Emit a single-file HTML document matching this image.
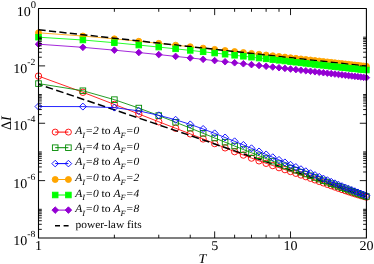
<!DOCTYPE html><html><head><meta charset="utf-8"><style>html,body{margin:0;padding:0;background:#fff}svg{display:block}</style></head><body><div style="will-change:transform;width:374px;height:264px"><svg text-rendering="geometricPrecision" width="374" height="264" viewBox="0 0 374 264">
<rect width="374" height="264" fill="#fff"/>
<g>
<polyline points="38.50,76.10 82.88,92.28 114.37,104.43 138.79,113.99 158.75,121.77 175.62,128.27 190.24,133.87 203.13,138.94 214.66,143.61 225.09,147.84 234.62,151.65 243.38,155.06 251.49,158.10 259.04,160.83 266.11,163.30 272.74,165.56 279.00,167.66 284.92,169.63 290.53,171.50 295.87,173.28 300.96,175.00 305.83,176.66 310.49,178.27 314.96,179.85 319.25,181.38 323.38,182.87 327.36,184.30 331.20,185.68 334.91,187.00 338.50,188.27 341.98,189.48 345.34,190.63 348.61,191.72 351.78,192.76 354.87,193.74 357.87,194.67 360.79,195.55 363.63,196.37 366.40,197.14" fill="none" stroke="#ff0000" stroke-width="0.85"/>
<circle cx="38.50" cy="76.10" r="3.2" fill="none" stroke="#ff0000" stroke-width="0.9"/>
<circle cx="82.88" cy="92.28" r="3.2" fill="none" stroke="#ff0000" stroke-width="0.9"/>
<circle cx="114.37" cy="104.43" r="3.2" fill="none" stroke="#ff0000" stroke-width="0.9"/>
<circle cx="138.79" cy="113.99" r="3.2" fill="none" stroke="#ff0000" stroke-width="0.9"/>
<circle cx="158.75" cy="121.77" r="3.2" fill="none" stroke="#ff0000" stroke-width="0.9"/>
<circle cx="175.62" cy="128.27" r="3.2" fill="none" stroke="#ff0000" stroke-width="0.9"/>
<circle cx="190.24" cy="133.87" r="3.2" fill="none" stroke="#ff0000" stroke-width="0.9"/>
<circle cx="203.13" cy="138.94" r="3.2" fill="none" stroke="#ff0000" stroke-width="0.9"/>
<circle cx="214.66" cy="143.61" r="3.2" fill="none" stroke="#ff0000" stroke-width="0.9"/>
<circle cx="225.09" cy="147.84" r="3.2" fill="none" stroke="#ff0000" stroke-width="0.9"/>
<circle cx="234.62" cy="151.65" r="3.2" fill="none" stroke="#ff0000" stroke-width="0.9"/>
<circle cx="243.38" cy="155.06" r="3.2" fill="none" stroke="#ff0000" stroke-width="0.9"/>
<circle cx="251.49" cy="158.10" r="3.2" fill="none" stroke="#ff0000" stroke-width="0.9"/>
<circle cx="259.04" cy="160.83" r="3.2" fill="none" stroke="#ff0000" stroke-width="0.9"/>
<circle cx="266.11" cy="163.30" r="3.2" fill="none" stroke="#ff0000" stroke-width="0.9"/>
<circle cx="272.74" cy="165.56" r="3.2" fill="none" stroke="#ff0000" stroke-width="0.9"/>
<circle cx="279.00" cy="167.66" r="3.2" fill="none" stroke="#ff0000" stroke-width="0.9"/>
<circle cx="284.92" cy="169.63" r="3.2" fill="none" stroke="#ff0000" stroke-width="0.9"/>
<circle cx="290.53" cy="171.50" r="3.2" fill="none" stroke="#ff0000" stroke-width="0.9"/>
<circle cx="295.87" cy="173.28" r="3.2" fill="none" stroke="#ff0000" stroke-width="0.9"/>
<circle cx="300.96" cy="175.00" r="3.2" fill="none" stroke="#ff0000" stroke-width="0.9"/>
<circle cx="305.83" cy="176.66" r="3.2" fill="none" stroke="#ff0000" stroke-width="0.9"/>
<circle cx="310.49" cy="178.27" r="3.2" fill="none" stroke="#ff0000" stroke-width="0.9"/>
<circle cx="314.96" cy="179.85" r="3.2" fill="none" stroke="#ff0000" stroke-width="0.9"/>
<circle cx="319.25" cy="181.38" r="3.2" fill="none" stroke="#ff0000" stroke-width="0.9"/>
<circle cx="323.38" cy="182.87" r="3.2" fill="none" stroke="#ff0000" stroke-width="0.9"/>
<circle cx="327.36" cy="184.30" r="3.2" fill="none" stroke="#ff0000" stroke-width="0.9"/>
<circle cx="331.20" cy="185.68" r="3.2" fill="none" stroke="#ff0000" stroke-width="0.9"/>
<circle cx="334.91" cy="187.00" r="3.2" fill="none" stroke="#ff0000" stroke-width="0.9"/>
<circle cx="338.50" cy="188.27" r="3.2" fill="none" stroke="#ff0000" stroke-width="0.9"/>
<circle cx="341.98" cy="189.48" r="3.2" fill="none" stroke="#ff0000" stroke-width="0.9"/>
<circle cx="345.34" cy="190.63" r="3.2" fill="none" stroke="#ff0000" stroke-width="0.9"/>
<circle cx="348.61" cy="191.72" r="3.2" fill="none" stroke="#ff0000" stroke-width="0.9"/>
<circle cx="351.78" cy="192.76" r="3.2" fill="none" stroke="#ff0000" stroke-width="0.9"/>
<circle cx="354.87" cy="193.74" r="3.2" fill="none" stroke="#ff0000" stroke-width="0.9"/>
<circle cx="357.87" cy="194.67" r="3.2" fill="none" stroke="#ff0000" stroke-width="0.9"/>
<circle cx="360.79" cy="195.55" r="3.2" fill="none" stroke="#ff0000" stroke-width="0.9"/>
<circle cx="363.63" cy="196.37" r="3.2" fill="none" stroke="#ff0000" stroke-width="0.9"/>
<circle cx="366.40" cy="197.14" r="3.2" fill="none" stroke="#ff0000" stroke-width="0.9"/>
<polyline points="38.50,84.2 190.24,135.5 290.53,170.2 366.40,196.8" fill="none" stroke="#000" stroke-width="1.5" stroke-dasharray="7.6,3.4" stroke-dashoffset="3.3"/>
<polyline points="38.50,83.60 82.88,90.75 114.37,99.66 138.79,108.07 158.75,115.59 175.62,122.23 190.24,128.09 203.13,133.30 214.66,137.97 225.09,142.18 234.62,146.02 243.38,149.53 251.49,152.77 259.04,155.77 266.11,158.56 272.74,161.17 279.00,163.63 284.92,165.93 290.53,168.12 295.87,170.18 300.96,172.14 305.83,174.01 310.49,175.79 314.96,177.49 319.25,179.11 323.38,180.67 327.36,182.17 331.20,183.61 334.91,184.99 338.50,186.32 341.98,187.61 345.34,188.85 348.61,190.05 351.78,191.21 354.87,192.34 357.87,193.43 360.79,194.48 363.63,195.51 366.40,196.50" fill="none" stroke="#008b00" stroke-width="0.85"/>
<rect x="35.70" y="80.80" width="5.60" height="5.60" fill="none" stroke="#008b00" stroke-width="0.9"/>
<rect x="80.08" y="87.95" width="5.60" height="5.60" fill="none" stroke="#008b00" stroke-width="0.9"/>
<rect x="111.57" y="96.86" width="5.60" height="5.60" fill="none" stroke="#008b00" stroke-width="0.9"/>
<rect x="135.99" y="105.27" width="5.60" height="5.60" fill="none" stroke="#008b00" stroke-width="0.9"/>
<rect x="155.95" y="112.79" width="5.60" height="5.60" fill="none" stroke="#008b00" stroke-width="0.9"/>
<rect x="172.82" y="119.43" width="5.60" height="5.60" fill="none" stroke="#008b00" stroke-width="0.9"/>
<rect x="187.44" y="125.29" width="5.60" height="5.60" fill="none" stroke="#008b00" stroke-width="0.9"/>
<rect x="200.33" y="130.50" width="5.60" height="5.60" fill="none" stroke="#008b00" stroke-width="0.9"/>
<rect x="211.86" y="135.17" width="5.60" height="5.60" fill="none" stroke="#008b00" stroke-width="0.9"/>
<rect x="222.29" y="139.38" width="5.60" height="5.60" fill="none" stroke="#008b00" stroke-width="0.9"/>
<rect x="231.82" y="143.22" width="5.60" height="5.60" fill="none" stroke="#008b00" stroke-width="0.9"/>
<rect x="240.58" y="146.73" width="5.60" height="5.60" fill="none" stroke="#008b00" stroke-width="0.9"/>
<rect x="248.69" y="149.97" width="5.60" height="5.60" fill="none" stroke="#008b00" stroke-width="0.9"/>
<rect x="256.24" y="152.97" width="5.60" height="5.60" fill="none" stroke="#008b00" stroke-width="0.9"/>
<rect x="263.31" y="155.76" width="5.60" height="5.60" fill="none" stroke="#008b00" stroke-width="0.9"/>
<rect x="269.94" y="158.37" width="5.60" height="5.60" fill="none" stroke="#008b00" stroke-width="0.9"/>
<rect x="276.20" y="160.83" width="5.60" height="5.60" fill="none" stroke="#008b00" stroke-width="0.9"/>
<rect x="282.12" y="163.13" width="5.60" height="5.60" fill="none" stroke="#008b00" stroke-width="0.9"/>
<rect x="287.73" y="165.32" width="5.60" height="5.60" fill="none" stroke="#008b00" stroke-width="0.9"/>
<rect x="293.07" y="167.38" width="5.60" height="5.60" fill="none" stroke="#008b00" stroke-width="0.9"/>
<rect x="298.16" y="169.34" width="5.60" height="5.60" fill="none" stroke="#008b00" stroke-width="0.9"/>
<rect x="303.03" y="171.21" width="5.60" height="5.60" fill="none" stroke="#008b00" stroke-width="0.9"/>
<rect x="307.69" y="172.99" width="5.60" height="5.60" fill="none" stroke="#008b00" stroke-width="0.9"/>
<rect x="312.16" y="174.69" width="5.60" height="5.60" fill="none" stroke="#008b00" stroke-width="0.9"/>
<rect x="316.45" y="176.31" width="5.60" height="5.60" fill="none" stroke="#008b00" stroke-width="0.9"/>
<rect x="320.58" y="177.87" width="5.60" height="5.60" fill="none" stroke="#008b00" stroke-width="0.9"/>
<rect x="324.56" y="179.37" width="5.60" height="5.60" fill="none" stroke="#008b00" stroke-width="0.9"/>
<rect x="328.40" y="180.81" width="5.60" height="5.60" fill="none" stroke="#008b00" stroke-width="0.9"/>
<rect x="332.11" y="182.19" width="5.60" height="5.60" fill="none" stroke="#008b00" stroke-width="0.9"/>
<rect x="335.70" y="183.52" width="5.60" height="5.60" fill="none" stroke="#008b00" stroke-width="0.9"/>
<rect x="339.18" y="184.81" width="5.60" height="5.60" fill="none" stroke="#008b00" stroke-width="0.9"/>
<rect x="342.54" y="186.05" width="5.60" height="5.60" fill="none" stroke="#008b00" stroke-width="0.9"/>
<rect x="345.81" y="187.25" width="5.60" height="5.60" fill="none" stroke="#008b00" stroke-width="0.9"/>
<rect x="348.98" y="188.41" width="5.60" height="5.60" fill="none" stroke="#008b00" stroke-width="0.9"/>
<rect x="352.07" y="189.54" width="5.60" height="5.60" fill="none" stroke="#008b00" stroke-width="0.9"/>
<rect x="355.07" y="190.63" width="5.60" height="5.60" fill="none" stroke="#008b00" stroke-width="0.9"/>
<rect x="357.99" y="191.68" width="5.60" height="5.60" fill="none" stroke="#008b00" stroke-width="0.9"/>
<rect x="360.83" y="192.71" width="5.60" height="5.60" fill="none" stroke="#008b00" stroke-width="0.9"/>
<rect x="363.60" y="193.70" width="5.60" height="5.60" fill="none" stroke="#008b00" stroke-width="0.9"/>
<polyline points="38.50,106.50 82.88,106.60 114.37,107.60 138.79,110.90 158.75,115.32 175.62,119.78 190.24,124.41 203.13,128.99 214.66,133.37 225.09,137.49 234.62,141.34 243.38,144.94 251.49,148.31 259.04,151.47 266.11,154.45 272.74,157.25 279.00,159.91 284.92,162.42 290.53,164.80 295.87,167.06 300.96,169.22 305.83,171.27 310.49,173.23 314.96,175.10 319.25,176.89 323.38,178.60 327.36,180.24 331.20,181.82 334.91,183.33 338.50,184.78 341.98,186.18 345.34,187.53 348.61,188.82 351.78,190.07 354.87,191.28 357.87,192.44 360.79,193.57 363.63,194.65 366.40,195.70" fill="none" stroke="#0000ff" stroke-width="0.85"/>
<path d="M35.00 106.50 L38.50 103.00 L42.00 106.50 L38.50 110.00Z" fill="none" stroke="#0000ff" stroke-width="0.9"/>
<path d="M79.38 106.60 L82.88 103.10 L86.38 106.60 L82.88 110.10Z" fill="none" stroke="#0000ff" stroke-width="0.9"/>
<path d="M110.87 107.60 L114.37 104.10 L117.87 107.60 L114.37 111.10Z" fill="none" stroke="#0000ff" stroke-width="0.9"/>
<path d="M135.29 110.90 L138.79 107.40 L142.29 110.90 L138.79 114.40Z" fill="none" stroke="#0000ff" stroke-width="0.9"/>
<path d="M155.25 115.32 L158.75 111.82 L162.25 115.32 L158.75 118.82Z" fill="none" stroke="#0000ff" stroke-width="0.9"/>
<path d="M172.12 119.78 L175.62 116.28 L179.12 119.78 L175.62 123.28Z" fill="none" stroke="#0000ff" stroke-width="0.9"/>
<path d="M186.74 124.41 L190.24 120.91 L193.74 124.41 L190.24 127.91Z" fill="none" stroke="#0000ff" stroke-width="0.9"/>
<path d="M199.63 128.99 L203.13 125.49 L206.63 128.99 L203.13 132.49Z" fill="none" stroke="#0000ff" stroke-width="0.9"/>
<path d="M211.16 133.37 L214.66 129.87 L218.16 133.37 L214.66 136.87Z" fill="none" stroke="#0000ff" stroke-width="0.9"/>
<path d="M221.59 137.49 L225.09 133.99 L228.59 137.49 L225.09 140.99Z" fill="none" stroke="#0000ff" stroke-width="0.9"/>
<path d="M231.12 141.34 L234.62 137.84 L238.12 141.34 L234.62 144.84Z" fill="none" stroke="#0000ff" stroke-width="0.9"/>
<path d="M239.88 144.94 L243.38 141.44 L246.88 144.94 L243.38 148.44Z" fill="none" stroke="#0000ff" stroke-width="0.9"/>
<path d="M247.99 148.31 L251.49 144.81 L254.99 148.31 L251.49 151.81Z" fill="none" stroke="#0000ff" stroke-width="0.9"/>
<path d="M255.54 151.47 L259.04 147.97 L262.54 151.47 L259.04 154.97Z" fill="none" stroke="#0000ff" stroke-width="0.9"/>
<path d="M262.61 154.45 L266.11 150.95 L269.61 154.45 L266.11 157.95Z" fill="none" stroke="#0000ff" stroke-width="0.9"/>
<path d="M269.24 157.25 L272.74 153.75 L276.24 157.25 L272.74 160.75Z" fill="none" stroke="#0000ff" stroke-width="0.9"/>
<path d="M275.50 159.91 L279.00 156.41 L282.50 159.91 L279.00 163.41Z" fill="none" stroke="#0000ff" stroke-width="0.9"/>
<path d="M281.42 162.42 L284.92 158.92 L288.42 162.42 L284.92 165.92Z" fill="none" stroke="#0000ff" stroke-width="0.9"/>
<path d="M287.03 164.80 L290.53 161.30 L294.03 164.80 L290.53 168.30Z" fill="none" stroke="#0000ff" stroke-width="0.9"/>
<path d="M292.37 167.06 L295.87 163.56 L299.37 167.06 L295.87 170.56Z" fill="none" stroke="#0000ff" stroke-width="0.9"/>
<path d="M297.46 169.22 L300.96 165.72 L304.46 169.22 L300.96 172.72Z" fill="none" stroke="#0000ff" stroke-width="0.9"/>
<path d="M302.33 171.27 L305.83 167.77 L309.33 171.27 L305.83 174.77Z" fill="none" stroke="#0000ff" stroke-width="0.9"/>
<path d="M306.99 173.23 L310.49 169.73 L313.99 173.23 L310.49 176.73Z" fill="none" stroke="#0000ff" stroke-width="0.9"/>
<path d="M311.46 175.10 L314.96 171.60 L318.46 175.10 L314.96 178.60Z" fill="none" stroke="#0000ff" stroke-width="0.9"/>
<path d="M315.75 176.89 L319.25 173.39 L322.75 176.89 L319.25 180.39Z" fill="none" stroke="#0000ff" stroke-width="0.9"/>
<path d="M319.88 178.60 L323.38 175.10 L326.88 178.60 L323.38 182.10Z" fill="none" stroke="#0000ff" stroke-width="0.9"/>
<path d="M323.86 180.24 L327.36 176.74 L330.86 180.24 L327.36 183.74Z" fill="none" stroke="#0000ff" stroke-width="0.9"/>
<path d="M327.70 181.82 L331.20 178.32 L334.70 181.82 L331.20 185.32Z" fill="none" stroke="#0000ff" stroke-width="0.9"/>
<path d="M331.41 183.33 L334.91 179.83 L338.41 183.33 L334.91 186.83Z" fill="none" stroke="#0000ff" stroke-width="0.9"/>
<path d="M335.00 184.78 L338.50 181.28 L342.00 184.78 L338.50 188.28Z" fill="none" stroke="#0000ff" stroke-width="0.9"/>
<path d="M338.48 186.18 L341.98 182.68 L345.48 186.18 L341.98 189.68Z" fill="none" stroke="#0000ff" stroke-width="0.9"/>
<path d="M341.84 187.53 L345.34 184.03 L348.84 187.53 L345.34 191.03Z" fill="none" stroke="#0000ff" stroke-width="0.9"/>
<path d="M345.11 188.82 L348.61 185.32 L352.11 188.82 L348.61 192.32Z" fill="none" stroke="#0000ff" stroke-width="0.9"/>
<path d="M348.28 190.07 L351.78 186.57 L355.28 190.07 L351.78 193.57Z" fill="none" stroke="#0000ff" stroke-width="0.9"/>
<path d="M351.37 191.28 L354.87 187.78 L358.37 191.28 L354.87 194.78Z" fill="none" stroke="#0000ff" stroke-width="0.9"/>
<path d="M354.37 192.44 L357.87 188.94 L361.37 192.44 L357.87 195.94Z" fill="none" stroke="#0000ff" stroke-width="0.9"/>
<path d="M357.29 193.57 L360.79 190.07 L364.29 193.57 L360.79 197.07Z" fill="none" stroke="#0000ff" stroke-width="0.9"/>
<path d="M360.13 194.65 L363.63 191.15 L367.13 194.65 L363.63 198.15Z" fill="none" stroke="#0000ff" stroke-width="0.9"/>
<path d="M362.90 195.70 L366.40 192.20 L369.90 195.70 L366.40 199.20Z" fill="none" stroke="#0000ff" stroke-width="0.9"/>
<polyline points="38.50,32.80 82.88,36.02 114.37,38.85 138.79,41.28 158.75,43.36 175.62,45.17 190.24,46.74 203.13,48.14 214.66,49.39 225.09,50.52 234.62,51.56 243.38,52.52 251.49,53.41 259.04,54.24 266.11,55.02 272.74,55.76 279.00,56.45 284.92,57.12 290.53,57.75 295.87,58.35 300.96,58.93 305.83,59.48 310.49,60.01 314.96,60.52 319.25,61.00 323.38,61.47 327.36,61.93 331.20,62.36 334.91,62.78 338.50,63.19 341.98,63.58 345.34,63.96 348.61,64.33 351.78,64.69 354.87,65.03 357.87,65.36 360.79,65.69 363.63,66.00 366.40,66.31" fill="none" stroke="#ffa500" stroke-width="0.85"/>
<circle cx="38.50" cy="32.80" r="3.0" fill="#ffa500" stroke="#ffa500" stroke-width="0.9"/>
<circle cx="82.88" cy="36.02" r="3.0" fill="#ffa500" stroke="#ffa500" stroke-width="0.9"/>
<circle cx="114.37" cy="38.85" r="3.0" fill="#ffa500" stroke="#ffa500" stroke-width="0.9"/>
<circle cx="138.79" cy="41.28" r="3.0" fill="#ffa500" stroke="#ffa500" stroke-width="0.9"/>
<circle cx="158.75" cy="43.36" r="3.0" fill="#ffa500" stroke="#ffa500" stroke-width="0.9"/>
<circle cx="175.62" cy="45.17" r="3.0" fill="#ffa500" stroke="#ffa500" stroke-width="0.9"/>
<circle cx="190.24" cy="46.74" r="3.0" fill="#ffa500" stroke="#ffa500" stroke-width="0.9"/>
<circle cx="203.13" cy="48.14" r="3.0" fill="#ffa500" stroke="#ffa500" stroke-width="0.9"/>
<circle cx="214.66" cy="49.39" r="3.0" fill="#ffa500" stroke="#ffa500" stroke-width="0.9"/>
<circle cx="225.09" cy="50.52" r="3.0" fill="#ffa500" stroke="#ffa500" stroke-width="0.9"/>
<circle cx="234.62" cy="51.56" r="3.0" fill="#ffa500" stroke="#ffa500" stroke-width="0.9"/>
<circle cx="243.38" cy="52.52" r="3.0" fill="#ffa500" stroke="#ffa500" stroke-width="0.9"/>
<circle cx="251.49" cy="53.41" r="3.0" fill="#ffa500" stroke="#ffa500" stroke-width="0.9"/>
<circle cx="259.04" cy="54.24" r="3.0" fill="#ffa500" stroke="#ffa500" stroke-width="0.9"/>
<circle cx="266.11" cy="55.02" r="3.0" fill="#ffa500" stroke="#ffa500" stroke-width="0.9"/>
<circle cx="272.74" cy="55.76" r="3.0" fill="#ffa500" stroke="#ffa500" stroke-width="0.9"/>
<circle cx="279.00" cy="56.45" r="3.0" fill="#ffa500" stroke="#ffa500" stroke-width="0.9"/>
<circle cx="284.92" cy="57.12" r="3.0" fill="#ffa500" stroke="#ffa500" stroke-width="0.9"/>
<circle cx="290.53" cy="57.75" r="3.0" fill="#ffa500" stroke="#ffa500" stroke-width="0.9"/>
<circle cx="295.87" cy="58.35" r="3.0" fill="#ffa500" stroke="#ffa500" stroke-width="0.9"/>
<circle cx="300.96" cy="58.93" r="3.0" fill="#ffa500" stroke="#ffa500" stroke-width="0.9"/>
<circle cx="305.83" cy="59.48" r="3.0" fill="#ffa500" stroke="#ffa500" stroke-width="0.9"/>
<circle cx="310.49" cy="60.01" r="3.0" fill="#ffa500" stroke="#ffa500" stroke-width="0.9"/>
<circle cx="314.96" cy="60.52" r="3.0" fill="#ffa500" stroke="#ffa500" stroke-width="0.9"/>
<circle cx="319.25" cy="61.00" r="3.0" fill="#ffa500" stroke="#ffa500" stroke-width="0.9"/>
<circle cx="323.38" cy="61.47" r="3.0" fill="#ffa500" stroke="#ffa500" stroke-width="0.9"/>
<circle cx="327.36" cy="61.93" r="3.0" fill="#ffa500" stroke="#ffa500" stroke-width="0.9"/>
<circle cx="331.20" cy="62.36" r="3.0" fill="#ffa500" stroke="#ffa500" stroke-width="0.9"/>
<circle cx="334.91" cy="62.78" r="3.0" fill="#ffa500" stroke="#ffa500" stroke-width="0.9"/>
<circle cx="338.50" cy="63.19" r="3.0" fill="#ffa500" stroke="#ffa500" stroke-width="0.9"/>
<circle cx="341.98" cy="63.58" r="3.0" fill="#ffa500" stroke="#ffa500" stroke-width="0.9"/>
<circle cx="345.34" cy="63.96" r="3.0" fill="#ffa500" stroke="#ffa500" stroke-width="0.9"/>
<circle cx="348.61" cy="64.33" r="3.0" fill="#ffa500" stroke="#ffa500" stroke-width="0.9"/>
<circle cx="351.78" cy="64.69" r="3.0" fill="#ffa500" stroke="#ffa500" stroke-width="0.9"/>
<circle cx="354.87" cy="65.03" r="3.0" fill="#ffa500" stroke="#ffa500" stroke-width="0.9"/>
<circle cx="357.87" cy="65.36" r="3.0" fill="#ffa500" stroke="#ffa500" stroke-width="0.9"/>
<circle cx="360.79" cy="65.69" r="3.0" fill="#ffa500" stroke="#ffa500" stroke-width="0.9"/>
<circle cx="363.63" cy="66.00" r="3.0" fill="#ffa500" stroke="#ffa500" stroke-width="0.9"/>
<circle cx="366.40" cy="66.31" r="3.0" fill="#ffa500" stroke="#ffa500" stroke-width="0.9"/>
<line x1="38.50" y1="29.80" x2="366.40" y2="66.15" stroke="#000" stroke-width="1.5" stroke-dasharray="7.2,3.3"/>
<polyline points="38.50,37.20 82.88,40.01 114.37,42.71 138.79,45.06 158.75,47.07 175.62,48.84 190.24,50.40 203.13,51.79 214.66,53.06 225.09,54.22 234.62,55.28 243.38,56.27 251.49,57.18 259.04,58.04 266.11,58.84 272.74,59.60 279.00,60.31 284.92,60.99 290.53,61.63 295.87,62.24 300.96,62.82 305.83,63.37 310.49,63.90 314.96,64.41 319.25,64.90 323.38,65.36 327.36,65.81 331.20,66.23 334.91,66.65 338.50,67.04 341.98,67.42 345.34,67.79 348.61,68.14 351.78,68.48 354.87,68.81 357.87,69.13 360.79,69.43 363.63,69.73 366.40,70.02" fill="none" stroke="#00ff00" stroke-width="0.85"/>
<rect x="35.70" y="34.40" width="5.60" height="5.60" fill="#00ff00" stroke="#00ff00" stroke-width="0.9"/>
<rect x="80.08" y="37.21" width="5.60" height="5.60" fill="#00ff00" stroke="#00ff00" stroke-width="0.9"/>
<rect x="111.57" y="39.91" width="5.60" height="5.60" fill="#00ff00" stroke="#00ff00" stroke-width="0.9"/>
<rect x="135.99" y="42.26" width="5.60" height="5.60" fill="#00ff00" stroke="#00ff00" stroke-width="0.9"/>
<rect x="155.95" y="44.27" width="5.60" height="5.60" fill="#00ff00" stroke="#00ff00" stroke-width="0.9"/>
<rect x="172.82" y="46.04" width="5.60" height="5.60" fill="#00ff00" stroke="#00ff00" stroke-width="0.9"/>
<rect x="187.44" y="47.60" width="5.60" height="5.60" fill="#00ff00" stroke="#00ff00" stroke-width="0.9"/>
<rect x="200.33" y="48.99" width="5.60" height="5.60" fill="#00ff00" stroke="#00ff00" stroke-width="0.9"/>
<rect x="211.86" y="50.26" width="5.60" height="5.60" fill="#00ff00" stroke="#00ff00" stroke-width="0.9"/>
<rect x="222.29" y="51.42" width="5.60" height="5.60" fill="#00ff00" stroke="#00ff00" stroke-width="0.9"/>
<rect x="231.82" y="52.48" width="5.60" height="5.60" fill="#00ff00" stroke="#00ff00" stroke-width="0.9"/>
<rect x="240.58" y="53.47" width="5.60" height="5.60" fill="#00ff00" stroke="#00ff00" stroke-width="0.9"/>
<rect x="248.69" y="54.38" width="5.60" height="5.60" fill="#00ff00" stroke="#00ff00" stroke-width="0.9"/>
<rect x="256.24" y="55.24" width="5.60" height="5.60" fill="#00ff00" stroke="#00ff00" stroke-width="0.9"/>
<rect x="263.31" y="56.04" width="5.60" height="5.60" fill="#00ff00" stroke="#00ff00" stroke-width="0.9"/>
<rect x="269.94" y="56.80" width="5.60" height="5.60" fill="#00ff00" stroke="#00ff00" stroke-width="0.9"/>
<rect x="276.20" y="57.51" width="5.60" height="5.60" fill="#00ff00" stroke="#00ff00" stroke-width="0.9"/>
<rect x="282.12" y="58.19" width="5.60" height="5.60" fill="#00ff00" stroke="#00ff00" stroke-width="0.9"/>
<rect x="287.73" y="58.83" width="5.60" height="5.60" fill="#00ff00" stroke="#00ff00" stroke-width="0.9"/>
<rect x="293.07" y="59.44" width="5.60" height="5.60" fill="#00ff00" stroke="#00ff00" stroke-width="0.9"/>
<rect x="298.16" y="60.02" width="5.60" height="5.60" fill="#00ff00" stroke="#00ff00" stroke-width="0.9"/>
<rect x="303.03" y="60.57" width="5.60" height="5.60" fill="#00ff00" stroke="#00ff00" stroke-width="0.9"/>
<rect x="307.69" y="61.10" width="5.60" height="5.60" fill="#00ff00" stroke="#00ff00" stroke-width="0.9"/>
<rect x="312.16" y="61.61" width="5.60" height="5.60" fill="#00ff00" stroke="#00ff00" stroke-width="0.9"/>
<rect x="316.45" y="62.10" width="5.60" height="5.60" fill="#00ff00" stroke="#00ff00" stroke-width="0.9"/>
<rect x="320.58" y="62.56" width="5.60" height="5.60" fill="#00ff00" stroke="#00ff00" stroke-width="0.9"/>
<rect x="324.56" y="63.01" width="5.60" height="5.60" fill="#00ff00" stroke="#00ff00" stroke-width="0.9"/>
<rect x="328.40" y="63.43" width="5.60" height="5.60" fill="#00ff00" stroke="#00ff00" stroke-width="0.9"/>
<rect x="332.11" y="63.85" width="5.60" height="5.60" fill="#00ff00" stroke="#00ff00" stroke-width="0.9"/>
<rect x="335.70" y="64.24" width="5.60" height="5.60" fill="#00ff00" stroke="#00ff00" stroke-width="0.9"/>
<rect x="339.18" y="64.62" width="5.60" height="5.60" fill="#00ff00" stroke="#00ff00" stroke-width="0.9"/>
<rect x="342.54" y="64.99" width="5.60" height="5.60" fill="#00ff00" stroke="#00ff00" stroke-width="0.9"/>
<rect x="345.81" y="65.34" width="5.60" height="5.60" fill="#00ff00" stroke="#00ff00" stroke-width="0.9"/>
<rect x="348.98" y="65.68" width="5.60" height="5.60" fill="#00ff00" stroke="#00ff00" stroke-width="0.9"/>
<rect x="352.07" y="66.01" width="5.60" height="5.60" fill="#00ff00" stroke="#00ff00" stroke-width="0.9"/>
<rect x="355.07" y="66.33" width="5.60" height="5.60" fill="#00ff00" stroke="#00ff00" stroke-width="0.9"/>
<rect x="357.99" y="66.63" width="5.60" height="5.60" fill="#00ff00" stroke="#00ff00" stroke-width="0.9"/>
<rect x="360.83" y="66.93" width="5.60" height="5.60" fill="#00ff00" stroke="#00ff00" stroke-width="0.9"/>
<rect x="363.60" y="67.22" width="5.60" height="5.60" fill="#00ff00" stroke="#00ff00" stroke-width="0.9"/>
<polyline points="38.50,44.20 82.88,47.34 114.37,50.16 138.79,52.55 158.75,54.59 175.62,56.38 190.24,57.94 203.13,59.34 214.66,60.59 225.09,61.74 234.62,62.78 243.38,63.75 251.49,64.65 259.04,65.49 266.11,66.28 272.74,67.02 279.00,67.72 284.92,68.39 290.53,69.02 295.87,69.62 300.96,70.20 305.83,70.75 310.49,71.28 314.96,71.78 319.25,72.27 323.38,72.74 327.36,73.19 331.20,73.63 334.91,74.05 338.50,74.46 341.98,74.86 345.34,75.24 348.61,75.61 351.78,75.98 354.87,76.33 357.87,76.67 360.79,77.01 363.63,77.33 366.40,77.65" fill="none" stroke="#9400d3" stroke-width="0.85"/>
<path d="M35.20 44.20 L38.50 40.90 L41.80 44.20 L38.50 47.50Z" fill="#9400d3" stroke="#9400d3" stroke-width="0.9"/>
<path d="M79.58 47.34 L82.88 44.04 L86.18 47.34 L82.88 50.64Z" fill="#9400d3" stroke="#9400d3" stroke-width="0.9"/>
<path d="M111.07 50.16 L114.37 46.86 L117.67 50.16 L114.37 53.46Z" fill="#9400d3" stroke="#9400d3" stroke-width="0.9"/>
<path d="M135.49 52.55 L138.79 49.25 L142.09 52.55 L138.79 55.85Z" fill="#9400d3" stroke="#9400d3" stroke-width="0.9"/>
<path d="M155.45 54.59 L158.75 51.29 L162.05 54.59 L158.75 57.89Z" fill="#9400d3" stroke="#9400d3" stroke-width="0.9"/>
<path d="M172.32 56.38 L175.62 53.08 L178.92 56.38 L175.62 59.68Z" fill="#9400d3" stroke="#9400d3" stroke-width="0.9"/>
<path d="M186.94 57.94 L190.24 54.64 L193.54 57.94 L190.24 61.24Z" fill="#9400d3" stroke="#9400d3" stroke-width="0.9"/>
<path d="M199.83 59.34 L203.13 56.04 L206.43 59.34 L203.13 62.64Z" fill="#9400d3" stroke="#9400d3" stroke-width="0.9"/>
<path d="M211.36 60.59 L214.66 57.29 L217.96 60.59 L214.66 63.89Z" fill="#9400d3" stroke="#9400d3" stroke-width="0.9"/>
<path d="M221.79 61.74 L225.09 58.44 L228.39 61.74 L225.09 65.04Z" fill="#9400d3" stroke="#9400d3" stroke-width="0.9"/>
<path d="M231.32 62.78 L234.62 59.48 L237.92 62.78 L234.62 66.08Z" fill="#9400d3" stroke="#9400d3" stroke-width="0.9"/>
<path d="M240.08 63.75 L243.38 60.45 L246.68 63.75 L243.38 67.05Z" fill="#9400d3" stroke="#9400d3" stroke-width="0.9"/>
<path d="M248.19 64.65 L251.49 61.35 L254.79 64.65 L251.49 67.95Z" fill="#9400d3" stroke="#9400d3" stroke-width="0.9"/>
<path d="M255.74 65.49 L259.04 62.19 L262.34 65.49 L259.04 68.79Z" fill="#9400d3" stroke="#9400d3" stroke-width="0.9"/>
<path d="M262.81 66.28 L266.11 62.98 L269.41 66.28 L266.11 69.58Z" fill="#9400d3" stroke="#9400d3" stroke-width="0.9"/>
<path d="M269.44 67.02 L272.74 63.72 L276.04 67.02 L272.74 70.32Z" fill="#9400d3" stroke="#9400d3" stroke-width="0.9"/>
<path d="M275.70 67.72 L279.00 64.42 L282.30 67.72 L279.00 71.02Z" fill="#9400d3" stroke="#9400d3" stroke-width="0.9"/>
<path d="M281.62 68.39 L284.92 65.09 L288.22 68.39 L284.92 71.69Z" fill="#9400d3" stroke="#9400d3" stroke-width="0.9"/>
<path d="M287.23 69.02 L290.53 65.72 L293.83 69.02 L290.53 72.32Z" fill="#9400d3" stroke="#9400d3" stroke-width="0.9"/>
<path d="M292.57 69.62 L295.87 66.32 L299.17 69.62 L295.87 72.92Z" fill="#9400d3" stroke="#9400d3" stroke-width="0.9"/>
<path d="M297.66 70.20 L300.96 66.90 L304.26 70.20 L300.96 73.50Z" fill="#9400d3" stroke="#9400d3" stroke-width="0.9"/>
<path d="M302.53 70.75 L305.83 67.45 L309.13 70.75 L305.83 74.05Z" fill="#9400d3" stroke="#9400d3" stroke-width="0.9"/>
<path d="M307.19 71.28 L310.49 67.98 L313.79 71.28 L310.49 74.58Z" fill="#9400d3" stroke="#9400d3" stroke-width="0.9"/>
<path d="M311.66 71.78 L314.96 68.48 L318.26 71.78 L314.96 75.08Z" fill="#9400d3" stroke="#9400d3" stroke-width="0.9"/>
<path d="M315.95 72.27 L319.25 68.97 L322.55 72.27 L319.25 75.57Z" fill="#9400d3" stroke="#9400d3" stroke-width="0.9"/>
<path d="M320.08 72.74 L323.38 69.44 L326.68 72.74 L323.38 76.04Z" fill="#9400d3" stroke="#9400d3" stroke-width="0.9"/>
<path d="M324.06 73.19 L327.36 69.89 L330.66 73.19 L327.36 76.49Z" fill="#9400d3" stroke="#9400d3" stroke-width="0.9"/>
<path d="M327.90 73.63 L331.20 70.33 L334.50 73.63 L331.20 76.93Z" fill="#9400d3" stroke="#9400d3" stroke-width="0.9"/>
<path d="M331.61 74.05 L334.91 70.75 L338.21 74.05 L334.91 77.35Z" fill="#9400d3" stroke="#9400d3" stroke-width="0.9"/>
<path d="M335.20 74.46 L338.50 71.16 L341.80 74.46 L338.50 77.76Z" fill="#9400d3" stroke="#9400d3" stroke-width="0.9"/>
<path d="M338.68 74.86 L341.98 71.56 L345.28 74.86 L341.98 78.16Z" fill="#9400d3" stroke="#9400d3" stroke-width="0.9"/>
<path d="M342.04 75.24 L345.34 71.94 L348.64 75.24 L345.34 78.54Z" fill="#9400d3" stroke="#9400d3" stroke-width="0.9"/>
<path d="M345.31 75.61 L348.61 72.31 L351.91 75.61 L348.61 78.91Z" fill="#9400d3" stroke="#9400d3" stroke-width="0.9"/>
<path d="M348.48 75.98 L351.78 72.68 L355.08 75.98 L351.78 79.28Z" fill="#9400d3" stroke="#9400d3" stroke-width="0.9"/>
<path d="M351.57 76.33 L354.87 73.03 L358.17 76.33 L354.87 79.63Z" fill="#9400d3" stroke="#9400d3" stroke-width="0.9"/>
<path d="M354.57 76.67 L357.87 73.37 L361.17 76.67 L357.87 79.97Z" fill="#9400d3" stroke="#9400d3" stroke-width="0.9"/>
<path d="M357.49 77.01 L360.79 73.71 L364.09 77.01 L360.79 80.31Z" fill="#9400d3" stroke="#9400d3" stroke-width="0.9"/>
<path d="M360.33 77.33 L363.63 74.03 L366.93 77.33 L363.63 80.63Z" fill="#9400d3" stroke="#9400d3" stroke-width="0.9"/>
<path d="M363.10 77.65 L366.40 74.35 L369.70 77.65 L366.40 80.95Z" fill="#9400d3" stroke="#9400d3" stroke-width="0.9"/>
</g>
<g stroke="#000" stroke-width="1.1" fill="none" stroke-linejoin="round">
<rect x="38.50" y="8.50" width="327.90" height="229.50"/>
<g stroke-width="0.9">
<path d="M38.50 238.00v-6.60 M38.50 8.50v6.60"/>
<path d="M114.37 238.00v-3.30 M114.37 8.50v3.30"/>
<path d="M158.75 238.00v-3.30 M158.75 8.50v3.30"/>
<path d="M190.24 238.00v-3.30 M190.24 8.50v3.30"/>
<path d="M214.66 238.00v-6.60 M214.66 8.50v6.60"/>
<path d="M234.62 238.00v-3.30 M234.62 8.50v3.30"/>
<path d="M251.49 238.00v-3.30 M251.49 8.50v3.30"/>
<path d="M266.11 238.00v-3.30 M266.11 8.50v3.30"/>
<path d="M279.00 238.00v-3.30 M279.00 8.50v3.30"/>
<path d="M290.53 238.00v-6.60 M290.53 8.50v6.60"/>
<path d="M38.50 65.88h6.60 M366.40 65.88h-6.60"/>
<path d="M38.50 123.25h6.60 M366.40 123.25h-6.60"/>
<path d="M38.50 180.62h6.60 M366.40 180.62h-6.60"/>
<path d="M38.50 57.24h3.30 M366.40 57.24h-3.30"/>
<path d="M38.50 52.19h3.30 M366.40 52.19h-3.30"/>
<path d="M38.50 48.60h3.30 M366.40 48.60h-3.30"/>
<path d="M38.50 45.82h3.30 M366.40 45.82h-3.30"/>
<path d="M38.50 43.55h3.30 M366.40 43.55h-3.30"/>
<path d="M38.50 41.63h3.30 M366.40 41.63h-3.30"/>
<path d="M38.50 39.97h3.30 M366.40 39.97h-3.30"/>
<path d="M38.50 38.50h3.30 M366.40 38.50h-3.30"/>
<path d="M38.50 37.19h3.30 M366.40 37.19h-3.30"/>
<path d="M38.50 114.61h3.30 M366.40 114.61h-3.30"/>
<path d="M38.50 109.56h3.30 M366.40 109.56h-3.30"/>
<path d="M38.50 105.98h3.30 M366.40 105.98h-3.30"/>
<path d="M38.50 103.20h3.30 M366.40 103.20h-3.30"/>
<path d="M38.50 100.93h3.30 M366.40 100.93h-3.30"/>
<path d="M38.50 99.01h3.30 M366.40 99.01h-3.30"/>
<path d="M38.50 97.34h3.30 M366.40 97.34h-3.30"/>
<path d="M38.50 95.88h3.30 M366.40 95.88h-3.30"/>
<path d="M38.50 94.56h3.30 M366.40 94.56h-3.30"/>
<path d="M38.50 171.99h3.30 M366.40 171.99h-3.30"/>
<path d="M38.50 166.94h3.30 M366.40 166.94h-3.30"/>
<path d="M38.50 163.35h3.30 M366.40 163.35h-3.30"/>
<path d="M38.50 160.57h3.30 M366.40 160.57h-3.30"/>
<path d="M38.50 158.30h3.30 M366.40 158.30h-3.30"/>
<path d="M38.50 156.38h3.30 M366.40 156.38h-3.30"/>
<path d="M38.50 154.72h3.30 M366.40 154.72h-3.30"/>
<path d="M38.50 153.25h3.30 M366.40 153.25h-3.30"/>
<path d="M38.50 151.94h3.30 M366.40 151.94h-3.30"/>
<path d="M38.50 229.36h3.30 M366.40 229.36h-3.30"/>
<path d="M38.50 224.31h3.30 M366.40 224.31h-3.30"/>
<path d="M38.50 220.73h3.30 M366.40 220.73h-3.30"/>
<path d="M38.50 217.95h3.30 M366.40 217.95h-3.30"/>
<path d="M38.50 215.68h3.30 M366.40 215.68h-3.30"/>
<path d="M38.50 213.76h3.30 M366.40 213.76h-3.30"/>
<path d="M38.50 212.09h3.30 M366.40 212.09h-3.30"/>
<path d="M38.50 210.63h3.30 M366.40 210.63h-3.30"/>
<path d="M38.50 209.31h3.30 M366.40 209.31h-3.30"/>
</g></g>
<text transform="translate(38.50 250.20) scale(1.04 1)" font-family="Liberation Serif, serif" font-size="13.5" text-anchor="middle" >1</text>
<text transform="translate(214.66 250.20) scale(1.04 1)" font-family="Liberation Serif, serif" font-size="13.5" text-anchor="middle" >5</text>
<text transform="translate(290.53 250.20) scale(1.04 1)" font-family="Liberation Serif, serif" font-size="13.5" text-anchor="middle" >10</text>
<text transform="translate(366.40 250.20) scale(1.04 1)" font-family="Liberation Serif, serif" font-size="13.5" text-anchor="middle" >20</text>
<text transform="translate(36.10 15.50) scale(1.04 1)" font-family="Liberation Serif, serif" font-size="13.5" text-anchor="end" >10<tspan font-size="10.2" dy="-7.5">0</tspan></text>
<text transform="translate(35.30 72.88) scale(1.04 1)" font-family="Liberation Serif, serif" font-size="13.5" text-anchor="end" >10<tspan font-size="9.4" dy="-8">-2</tspan></text>
<text transform="translate(35.30 130.25) scale(1.04 1)" font-family="Liberation Serif, serif" font-size="13.5" text-anchor="end" >10<tspan font-size="9.4" dy="-8">-4</tspan></text>
<text transform="translate(35.30 187.62) scale(1.04 1)" font-family="Liberation Serif, serif" font-size="13.5" text-anchor="end" >10<tspan font-size="9.4" dy="-8">-6</tspan></text>
<text transform="translate(35.30 245.00) scale(1.04 1)" font-family="Liberation Serif, serif" font-size="13.5" text-anchor="end" >10<tspan font-size="9.4" dy="-8">-8</tspan></text>
<text transform="translate(198.50 263.10) scale(1.04 1)" font-family="Liberation Serif, serif" font-size="13.5" text-anchor="start" font-style="italic">T</text>
<text transform="translate(10.90 123.20) rotate(-90) scale(0.96 1)" font-family="Liberation Serif, serif" font-size="14.5" text-anchor="middle">Δ<tspan font-style="italic">I</tspan></text>
<line x1="55.20" y1="132.10" x2="68.40" y2="132.10" stroke="#ff0000" stroke-width="1"/>
<circle cx="55.20" cy="132.10" r="3.0" fill="none" stroke="#ff0000" stroke-width="0.9"/>
<circle cx="68.40" cy="132.10" r="3.0" fill="none" stroke="#ff0000" stroke-width="0.9"/>
<text transform="translate(75.30 133.90) scale(1.05 1)" font-family="Liberation Serif, serif" font-size="11.0" text-anchor="start" font-style="italic">A<tspan font-size="7.92" dy="3.6">I</tspan><tspan dy="-3.6">=2 </tspan><tspan font-style="normal">to </tspan>A<tspan font-size="7.92" dy="3.6">F</tspan><tspan dy="-3.6">=0</tspan></text>
<line x1="55.20" y1="147.70" x2="68.40" y2="147.70" stroke="#008b00" stroke-width="1"/>
<rect x="52.40" y="144.90" width="5.60" height="5.60" fill="none" stroke="#008b00" stroke-width="0.9"/>
<rect x="65.60" y="144.90" width="5.60" height="5.60" fill="none" stroke="#008b00" stroke-width="0.9"/>
<text transform="translate(75.30 149.50) scale(1.05 1)" font-family="Liberation Serif, serif" font-size="11.0" text-anchor="start" font-style="italic">A<tspan font-size="7.92" dy="3.6">I</tspan><tspan dy="-3.6">=4 </tspan><tspan font-style="normal">to </tspan>A<tspan font-size="7.92" dy="3.6">F</tspan><tspan dy="-3.6">=0</tspan></text>
<line x1="55.20" y1="163.60" x2="68.40" y2="163.60" stroke="#0000ff" stroke-width="1"/>
<path d="M51.90 163.60 L55.20 160.30 L58.50 163.60 L55.20 166.90Z" fill="none" stroke="#0000ff" stroke-width="0.9"/>
<path d="M65.10 163.60 L68.40 160.30 L71.70 163.60 L68.40 166.90Z" fill="none" stroke="#0000ff" stroke-width="0.9"/>
<text transform="translate(75.30 165.40) scale(1.05 1)" font-family="Liberation Serif, serif" font-size="11.0" text-anchor="start" font-style="italic">A<tspan font-size="7.92" dy="3.6">I</tspan><tspan dy="-3.6">=8 </tspan><tspan font-style="normal">to </tspan>A<tspan font-size="7.92" dy="3.6">F</tspan><tspan dy="-3.6">=0</tspan></text>
<line x1="55.20" y1="179.50" x2="68.40" y2="179.50" stroke="#ffa500" stroke-width="1"/>
<circle cx="55.20" cy="179.50" r="3.0" fill="#ffa500" stroke="#ffa500" stroke-width="0.9"/>
<circle cx="68.40" cy="179.50" r="3.0" fill="#ffa500" stroke="#ffa500" stroke-width="0.9"/>
<text transform="translate(75.30 181.30) scale(1.05 1)" font-family="Liberation Serif, serif" font-size="11.0" text-anchor="start" font-style="italic">A<tspan font-size="7.92" dy="3.6">I</tspan><tspan dy="-3.6">=0 </tspan><tspan font-style="normal">to </tspan>A<tspan font-size="7.92" dy="3.6">F</tspan><tspan dy="-3.6">=2</tspan></text>
<line x1="55.20" y1="195.00" x2="68.40" y2="195.00" stroke="#00ff00" stroke-width="1"/>
<rect x="52.40" y="192.20" width="5.60" height="5.60" fill="#00ff00" stroke="#00ff00" stroke-width="0.9"/>
<rect x="65.60" y="192.20" width="5.60" height="5.60" fill="#00ff00" stroke="#00ff00" stroke-width="0.9"/>
<text transform="translate(75.30 196.80) scale(1.05 1)" font-family="Liberation Serif, serif" font-size="11.0" text-anchor="start" font-style="italic">A<tspan font-size="7.92" dy="3.6">I</tspan><tspan dy="-3.6">=0 </tspan><tspan font-style="normal">to </tspan>A<tspan font-size="7.92" dy="3.6">F</tspan><tspan dy="-3.6">=4</tspan></text>
<line x1="55.20" y1="210.10" x2="68.40" y2="210.10" stroke="#9400d3" stroke-width="1"/>
<path d="M51.90 210.10 L55.20 206.80 L58.50 210.10 L55.20 213.40Z" fill="#9400d3" stroke="#9400d3" stroke-width="0.9"/>
<path d="M65.10 210.10 L68.40 206.80 L71.70 210.10 L68.40 213.40Z" fill="#9400d3" stroke="#9400d3" stroke-width="0.9"/>
<text transform="translate(75.30 211.90) scale(1.05 1)" font-family="Liberation Serif, serif" font-size="11.0" text-anchor="start" font-style="italic">A<tspan font-size="7.92" dy="3.6">I</tspan><tspan dy="-3.6">=0 </tspan><tspan font-style="normal">to </tspan>A<tspan font-size="7.92" dy="3.6">F</tspan><tspan dy="-3.6">=8</tspan></text>
<line x1="55" y1="225.70" x2="68.6" y2="225.70" stroke="#000" stroke-width="1.6" stroke-dasharray="5,3.6"/>
<text transform="translate(75.50 228.10) scale(1.04 1)" font-family="Liberation Serif, serif" font-size="11.0" text-anchor="start" >power-law fits</text>
</svg></div></body></html>
